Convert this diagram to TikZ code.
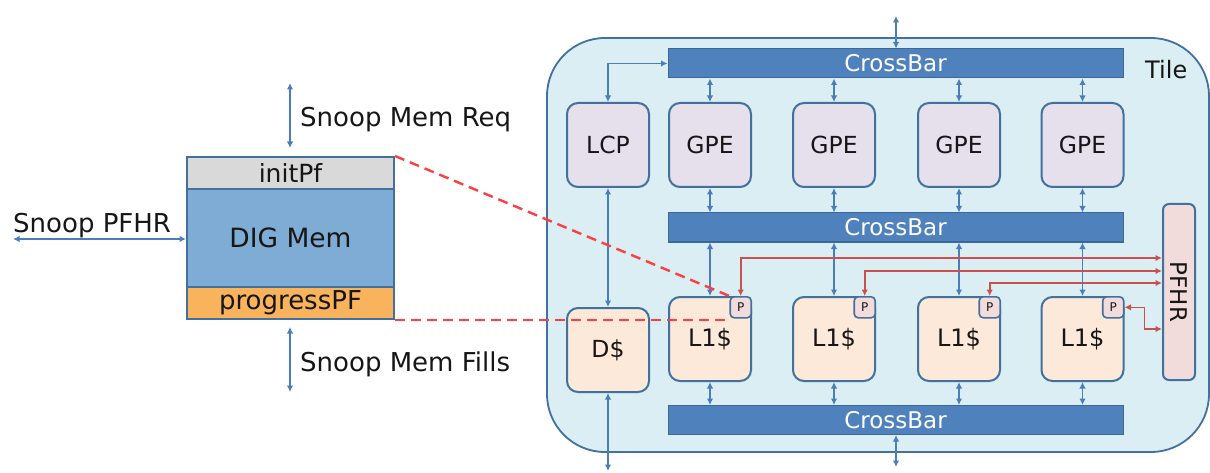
\documentclass[tikz,border=0pt]{standalone}
\usepackage{fontspec}
\setmainfont{DejaVu Sans}
\usetikzlibrary{arrows.meta,calc}
\definecolor{tilefill}{HTML}{DAEEF3}
\definecolor{edgeblue}{HTML}{41719C}
\definecolor{barblue}{HTML}{4F81BD}
\definecolor{baredge}{HTML}{3A679C}
\definecolor{gpefill}{HTML}{E6E0EC}
\definecolor{cachefill}{HTML}{FDE9D9}
\definecolor{pinkfill}{HTML}{F2DCDB}
\definecolor{linkblue}{HTML}{4A7EBB}
\definecolor{linkred}{HTML}{C9504D}
\definecolor{dashred}{HTML}{FF3F3F}
\definecolor{initfill}{HTML}{D9D9D9}
\definecolor{memfill}{HTML}{7EACD4}
\definecolor{progfill}{HTML}{F9B35C}
\definecolor{ink}{HTML}{161616}
\newcommand{\fs}[1]{\fontsize{#1}{#1}\selectfont}
\begin{document}
\begin{tikzpicture}[x=1pt,y=-1pt,
  tilebox/.style={draw=edgeblue, fill=tilefill, line width=1.8pt, rounded corners=58pt,
    minimum width=662pt, minimum height=414pt, inner sep=0pt},
  unit/.style={draw=edgeblue, line width=2pt, rounded corners=11pt, minimum width=82pt,
    minimum height=84pt, inner sep=0pt, text=ink},
  core/.style={unit, fill=gpefill, font=\fs{23.5}},
  cache/.style={unit, fill=cachefill, font=\fs{24}},
  bar/.style={draw=baredge, fill=barblue, line width=1pt, minimum width=455pt,
    minimum height=29pt, inner sep=0pt, text=white, font=\fs{23}},
  pbox/.style={draw=edgeblue, fill=pinkfill, line width=1.6pt, rounded corners=4pt,
    minimum width=21pt, minimum height=21pt, inner sep=0pt, font=\fs{12}, text=ink},
  band/.style={draw=edgeblue, line width=2pt, minimum width=207pt, inner sep=0pt, text=ink},
  label/.style={text=ink, inner sep=0pt},
  tip/.tip={Latex[length=6.5pt,width=6.5pt]},
  barrow/.style={linkblue, line width=1.6pt, tip-tip},
  rarrow/.style={linkred, line width=1.6pt, tip-tip},
  dashlink/.style={dashred, line width=2.4pt, dash pattern=on 10pt off 6pt}]
\useasboundingbox (0,0) rectangle (1210,473);

% tile outline and label
\node[tilebox] (tile) at (878,245) {};
\node[label, font=\fs{24}, anchor=base west] (tilelbl) at (1145,79) {Tile};

% crossbars
\node[bar] (topbar) at (895.5,63.5) {CrossBar};
\node[bar] (midbar) at (895.5,227.5) {CrossBar};
\node[bar] (botbar) at (895.5,420) {CrossBar};

% processors
\node[core] (lcp) at (608,145) {LCP};
\node[core] (g1) at (710,145) {GPE};
\node[core] (g2) at (834,145) {GPE};
\node[core] (g3) at (959,145) {GPE};
\node[core] (g4) at (1082.5,145) {GPE};

% caches
\node[cache, font=\fs{23.5}] (dc) at (608,350) {D\$};
\node[cache] (l1a) at (710,339) {L1\$};
\node[cache] (l1b) at (834,339) {L1\$};
\node[cache] (l1c) at (959,339) {L1\$};
\node[cache] (l1d) at (1082.5,339) {L1\$};

% prefetch markers in the cache corners
\node[pbox, anchor=north east] (pa) at (l1a.north east) {P};
\node[pbox, anchor=north east] (pb) at (l1b.north east) {P};
\node[pbox, anchor=north east] (pc) at (l1c.north east) {P};
\node[pbox, anchor=north east] (pd) at (l1d.north east) {P};

% prefetch history register
\node[draw=edgeblue, fill=pinkfill, line width=2pt, rounded corners=6pt,
  minimum width=32pt, minimum height=176pt, inner sep=0pt] (pfhr) at (1179,292) {};
\node[label, font=\fs{23}, rotate=-90] (pfhrlbl) at (pfhr.center) {PFHR};

% DIG memory block
\node[band, fill=initfill, minimum height=32pt, font=\fs{25}] (init) at (290.5,173) {initPf};
\node[band, fill=memfill, minimum height=98pt, font=\fs{26.5}] (mem) at (290.5,238) {DIG Mem};
\node[band, fill=progfill, minimum height=32pt, font=\fs{26}] (prog) at (290.5,303) {progressPF};

% external snoop links
\coordinate (reqA) at (290,83);
\coordinate (reqB) at (290,148);
\coordinate (filA) at (290,327);
\coordinate (filB) at (290,392);
\coordinate (pfl) at (13,239);
\draw[barrow] (reqA) -- (reqB);
\draw[barrow] (filA) -- (filB);
\draw[barrow] (pfl) -- (mem.west |- pfl);
\node[label, font=\fs{26}, anchor=base west] (reqlbl) at (300,127) {Snoop Mem Req};
\node[label, font=\fs{26}, anchor=base west] (fillbl) at (300,371) {Snoop Mem Fills};
\node[label, font=\fs{26}, anchor=base west] (pflbl) at (13,233) {Snoop PFHR};

% tile links
\coordinate (topout) at (896,16);
\coordinate (botout) at (896,467);
\coordinate (dout) at (608,471);
\draw[barrow] (topbar.north -| topout) -- (topout);
\draw[barrow] (botbar.south -| botout) -- (botout);
\draw[barrow] (lcp.north) |- (topbar.west);
\draw[barrow] (lcp.south) -- (dc.north);
\draw[barrow] (dc.south) -- (dout);
\foreach \g/\c in {g1/l1a, g2/l1b, g3/l1c, g4/l1d}{
  \draw[barrow] (\g.north) -- (\g.north |- topbar.south);
  \draw[barrow] (\g.south) -- (\g.south |- midbar.north);
  \draw[barrow] (\c.north) -- (\c.north |- midbar.south);
  \draw[barrow] (\c.south) -- (\c.south |- botbar.north);
}

% prefetch links to the PFHR
\coordinate (ra) at (1000,258);
\coordinate (rb) at (1000,271);
\coordinate (rc) at (1000,283);
\coordinate (rd) at (1000,329);
\draw[rarrow] (pa.north) |- (pfhr.west |- ra);
\draw[rarrow] (pb.north) |- (pfhr.west |- rb);
\draw[rarrow] (pc.north) |- (pfhr.west |- rc);
\draw[rarrow] (pd.east) -- ++(20,0) |- (pfhr.west |- rd);

% mapping of the DIG block onto the first L1
\draw[dashlink] (init.north east) -- (pa.north west);
\draw[dashlink] (prog.south east) -- (prog.south east -| pa.west);
\end{tikzpicture}
\end{document}
